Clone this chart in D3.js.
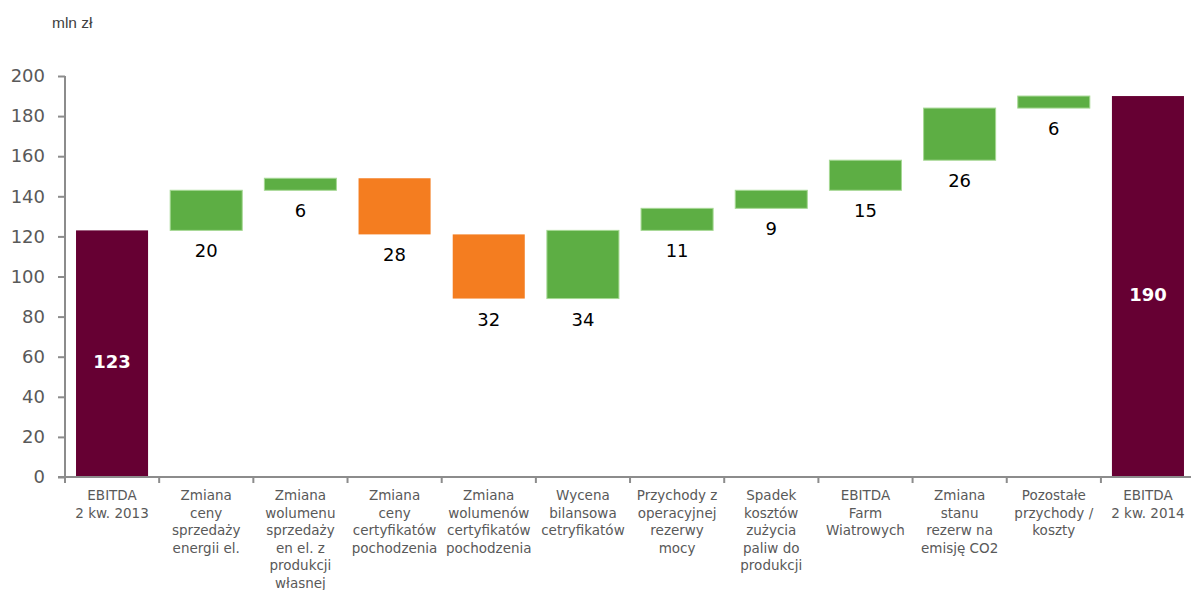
<!DOCTYPE html>
<html>
<head>
<meta charset="utf-8">
<script src="https://cdn.jsdelivr.net/npm/d3@7"></script>
<style>
  body { margin: 0; background: #fff; }
</style>
</head>
<body>
<div id="chart"></div>
<script>
// category labels, one entry per line
const categories = [
  ["EBITDA", "2 kw. 2013"],
  ["Zmiana", "ceny", "sprzedaży", "energii el."],
  ["Zmiana", "wolumenu", "sprzedaży", "en el. z", "produkcji", "własnej"],
  ["Zmiana", "ceny", "certyfikatów", "pochodzenia"],
  ["Zmiana", "wolumenów", "certyfikatów", "pochodzenia"],
  ["Wycena", "bilansowa", "cetryfikatów"],
  ["Przychody z", "operacyjnej", "rezerwy", "mocy"],
  ["Spadek", "kosztów", "zużycia", "paliw do", "produkcji"],
  ["EBITDA", "Farm", "Wiatrowych"],
  ["Zmiana", "stanu", "rezerw na", "emisję CO2"],
  ["Pozostałe", "przychody /", "koszty"],
  ["EBITDA", "2 kw. 2014"]
];
// signed changes; first and last are totals
const changes = [123, 20, 6, -28, -32, 34, 11, 9, 15, 26, 6, 190];
const kinds = ["total", "up", "up", "down", "down", "up", "up", "up", "up", "up", "up", "total"];
const yTicks = [0, 20, 40, 60, 80, 100, 120, 140, 160, 180, 200];

const width = 1191, height = 590;
const margin = {top: 76, right: -4, bottom: 113, left: 65};

const colors = {total: "#660033", up: "#5dae44", down: "#f47d20"};

// running totals -> start/end for each bar
let run = 0;
const bars = changes.map((v, i) => {
  let lo, hi;
  if (kinds[i] === "total") { lo = 0; hi = v; run = v; }
  else { const s = run; run = s + v; lo = Math.min(s, run); hi = Math.max(s, run); }
  return {i, v, lo, hi, kind: kinds[i]};
});

const x = d3.scaleBand()
    .domain(d3.range(categories.length))
    .range([margin.left, width - margin.right])
    .paddingInner(0.235)
    .paddingOuter(0.117);
const step = x.step();

const y = d3.scaleLinear()
    .domain([0, 200])
    .range([height - margin.bottom, margin.top]);

const svg = d3.select("#chart").append("svg")
    .attr("width", width)
    .attr("height", height)
    .attr("viewBox", [0, 0, width, height]);

svg.append("text")
    .attr("x", 52)
    .attr("y", 28)
    .attr("font-family", "Liberation Sans, Arial, sans-serif")
    .attr("font-size", 15.5)
    .attr("fill", "#404040")
    .text("mln zł");

// y axis
const axisColor = "#8c8c8c";
const yAxis = svg.append("g")
    .attr("transform", `translate(${margin.left},0)`)
    .call(d3.axisLeft(y).tickValues(yTicks).tickSize(7).tickPadding(13));
yAxis.select(".domain").attr("stroke", axisColor).attr("stroke-width", 2)
    .attr("d", `M0,${y(200)}V${y(0)}`);
yAxis.selectAll(".tick line").attr("stroke", axisColor).attr("stroke-width", 2);
yAxis.selectAll(".tick text")
    .attr("font-family", "DejaVu Sans, Verdana, sans-serif")
    .attr("font-size", 18)
    .attr("fill", "#595959");

// bars
svg.append("g")
  .selectAll("rect")
  .data(bars)
  .join("rect")
    .attr("x", d => x(d.i))
    .attr("width", x.bandwidth())
    .attr("y", d => y(d.hi))
    .attr("height", d => y(d.lo) - y(d.hi))
    .attr("fill", d => colors[d.kind])
    .attr("stroke", d => d.kind === "up" ? "#a6d894" : "none")
    .attr("stroke-width", 1);

// x axis line with ticks at band boundaries
const g0 = y(0);
svg.append("line")
    .attr("x1", margin.left - 7).attr("x2", width)
    .attr("y1", g0).attr("y2", g0)
    .attr("stroke", axisColor).attr("stroke-width", 2);
svg.append("g")
  .selectAll("line")
  .data(d3.range(categories.length + 1))
  .join("line")
    .attr("x1", i => margin.left + i * step)
    .attr("x2", i => margin.left + i * step)
    .attr("y1", g0).attr("y2", g0 + 6)
    .attr("stroke", axisColor).attr("stroke-width", 2);

// category labels
svg.append("g")
  .selectAll("text")
  .data(categories)
  .join("text")
    .attr("text-anchor", "middle")
    .attr("font-family", "DejaVu Sans, Verdana, sans-serif")
    .attr("font-size", 13.5)
    .attr("fill", "#595959")
    .attr("transform", (d, i) => `translate(${x(i) + x.bandwidth() / 2},${g0 + 23})`)
  .selectAll("tspan")
  .data(d => d)
  .join("tspan")
    .attr("x", 0)
    .attr("dy", (d, j) => j === 0 ? 0 : 17.6)
    .text(d => d);

// value labels
svg.append("g")
  .selectAll("text")
  .data(bars)
  .join("text")
    .attr("text-anchor", "middle")
    .attr("font-family", "DejaVu Sans, Verdana, sans-serif")
    .attr("font-size", 18)
    .attr("font-weight", d => d.kind === "total" ? "bold" : "normal")
    .attr("fill", d => d.kind === "total" ? "#fff" : "#000")
    .attr("x", d => x(d.i) + x.bandwidth() / 2)
    .attr("y", d => d.kind === "total" ? (y(d.hi) + y(d.lo)) / 2 + 14 : y(d.lo) + 27)
    .text(d => Math.abs(d.v));
</script>
</body>
</html>
